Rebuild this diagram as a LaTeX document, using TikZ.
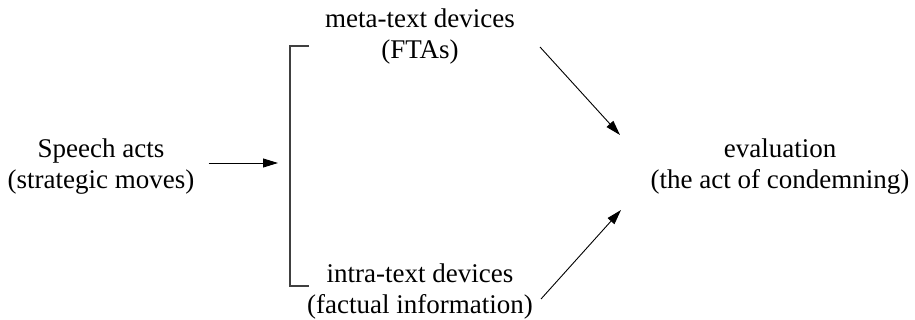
\documentclass[tikz,border=0pt]{standalone}
\usepackage{fontspec}
\setmainfont{Liberation Serif}
\usetikzlibrary{arrows.meta}
\tikzset{txt/.style={align=center, inner sep=0pt, font=\fontsize{27}{31}\selectfont}}
\tikzset{arr/.style={-{Triangle[length=15pt,width=9pt]}, line width=0.9pt}}
\tikzset{brk/.style={line width=1.1pt, black!75}}

\begin{document}
\begin{tikzpicture}[x=1pt,y=-1pt]

    \useasboundingbox (0,0) rectangle (915,320);

    \node[txt] (sa)    at (101,167) {Speech acts\\(strategic moves)};
    \node[txt] (meta)  at (420,37)  {meta-text devices\\(FTAs)};
    \node[txt] (intra) at (420,292) {intra-text devices\\(factual information)};
    \node[txt] (ev)    at (780,167) {evaluation\\(the act of condemning)};

    \coordinate (bt) at (290,46);
    \coordinate (bb) at (290,286);
    \coordinate (bm) at (278,163);
    \coordinate (et) at (620,135);
    \coordinate (eb) at (621,210);
    \coordinate (mt) at (540,47);
    \coordinate (it) at (541,299);

    \draw[brk] (309,46) -- (bt) -- (bb) -- (309,286);
    \draw[arr] (sa.east |- bm) ++(14,0) -- (bm);
    \draw[arr] (mt) -- (et);
    \draw[arr] (it) -- (eb);

  \end{tikzpicture}
\end{document}
